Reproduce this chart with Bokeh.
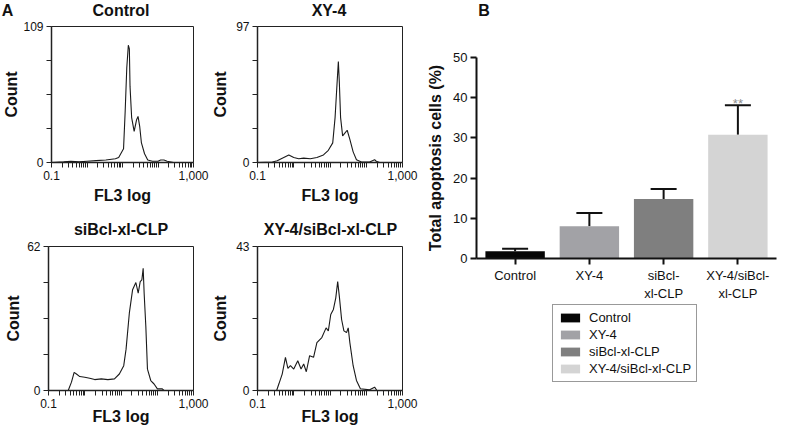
from bokeh.plotting import figure
from bokeh.layouts import row, column
from bokeh.models import (FixedTicker, Range1d, Label, Legend, LegendItem,
                          Whisker, TeeHead, ColumnDataSource)
from bokeh.embed import file_html
from bokeh.resources import INLINE

FONT = "Liberation Sans"

# ---------------- Panel A: flow cytometry histograms ----------------
hist_titles = ["Control", "XY-4", "siBcl-xl-CLP", "XY-4/siBcl-xl-CLP"]
hist_ymax = [109, 97, 62, 43]
hist_x_ticks = [0.1, 0.2, 0.3, 0.4, 0.5, 0.6, 0.7, 0.8, 0.9,
                1, 2, 3, 4, 5, 6, 7, 8, 9,
                10, 20, 30, 40, 50, 60, 70, 80, 90,
                100, 200, 300, 400, 500, 600, 700, 800, 900, 1000]
hist_x_labels = {0.1: "0.1", 1000: "1,000"}

control_fl3 = [0.1, 0.22, 0.35, 0.6, 1.0, 1.8, 3.4, 6.3, 7.8, 10.7, 11.9, 13.2, 14.6, 15.6, 16.3,
               18.1, 21.3, 24.8, 27.4, 30.5, 34.0, 41.8, 51.4, 70, 100, 119, 147, 181, 275, 1000]
control_count = [0, 0.5, 1, 0.5, 1, 1.5, 2, 3, 4, 11, 41, 76, 94, 91, 61,
                 36, 25, 34, 37, 29, 16, 7, 2, 1, 1, 2, 2, 1, 0, 0]

xy4_fl3 = [0.1, 0.257, 0.35, 0.53, 0.73, 1.0, 1.37, 1.88, 2.86, 4.35, 6.6, 9.0, 11.9, 13.8, 15.3,
           17.0, 18.1, 19.6, 22.3, 25.7, 29.8, 35.3, 43.5, 53.7, 73.6, 124, 170, 189, 233, 1000]
xy4_count = [0, 0.4, 1.3, 3.6, 5.4, 3.6, 2.7, 3.1, 2.7, 3.6, 5.4, 8.7, 14, 32, 52,
             72, 57, 32, 19, 21, 23, 16.5, 7.6, 2, 0.4, 0.4, 2, 0.9, 0, 0]

sibcl_fl3 = [0.1, 0.35, 0.43, 0.51, 0.59, 0.73, 1.0, 1.37, 1.88, 2.86, 4.35, 6.6, 9.0, 11.9, 13.8,
             17.0, 20.9, 25.7, 29.8, 33.9, 37.6, 40.9, 43.5, 48.4, 53.7, 66.2, 81.7, 101, 138, 153, 1000]
sibcl_count = [0, 0, 3.6, 7.8, 7.1, 6.0, 5.7, 5.3, 4.7, 5.0, 4.7, 5.0, 7.1, 10.7, 17.8,
               33.4, 43.4, 46.5, 41.9, 46.9, 47.6, 52.6, 41.9, 27.7, 9.2, 4.3, 2.8, 0.7, 0.7, 0, 0]

combo_fl3 = [0.1, 0.337, 0.39, 0.48, 0.59, 0.69, 0.81, 1.0, 1.29, 1.59, 1.88, 2.22, 2.74, 3.52, 4.35,
             5.95, 7.8, 9.0, 10.5, 12.4, 14.4, 16.3, 18.1, 20.9, 24.2, 28.6, 31.8, 35.3, 43.5, 53.7,
             69, 124, 170, 197, 1000]
combo_count = [0, 0, 2.0, 4.9, 9.9, 6.6, 7.4, 6.4, 8.9, 6.4, 7.9, 5.6, 10.4, 9.9, 14.3,
               15.8, 18.7, 17.8, 22.7, 24.2, 27.6, 32.5, 28.1, 21.2, 17.8, 17.3, 18.7, 14.3, 7.4, 3.0,
               0.5, 0.2, 1.0, 0, 0]

# ---------------- Panel B: bar chart ----------------
bar_categories = ["Control", "XY-4", "siBcl-xl-CLP", "XY-4/siBcl-xl-CLP"]
bar_tick_labels = ["Control", "XY-4", "siBcl-\nxl-CLP", "XY-4/siBcl-\nxl-CLP"]
bar_mean = [1.8, 8.0, 14.8, 30.8]
bar_err = [0.6, 3.3, 2.5, 7.3]
bar_colors = ["#060606", "#a2a2a6", "#7f7f7f", "#d4d4d4"]
bar_y_ticks = [0, 10, 20, 30, 40, 50]
bar_sig = ["", "", "", "**"]

TEXT = "#111111"


def text_strip(width, height, texts):
    """A blank figure whose frame is the whole area, used only to hold texts."""
    s = figure(width=width, height=height, x_range=Range1d(0, width), y_range=Range1d(0, height),
               output_backend="svg", toolbar_location=None,
               x_axis_location=None, y_axis_location=None,
               min_border_left=0, min_border_right=0, min_border_top=0, min_border_bottom=0)
    s.grid.visible = False
    s.outline_line_color = None
    s.background_fill_color = "white"
    s.border_fill_color = "white"
    for (x, y, t, size) in texts:
        s.add_layout(Label(x=x, y=y, text=t, text_align="center", text_baseline="middle",
                           text_font=FONT, text_font_style="bold", text_font_size=size,
                           text_color=TEXT))
    return s


def make_hist(fl3, count, ymax, width, height, left, right, top, bottom,
              ylabel_standoff, xlabel_standoff):
    p = figure(width=width, height=height, x_axis_type="log",
               x_range=Range1d(0.1, 1000), y_range=Range1d(0, ymax),
               output_backend="svg", toolbar_location=None,
               min_border_left=left, min_border_right=right,
               min_border_top=top, min_border_bottom=bottom)
    p.line(fl3, count, line_color="#1a1a1a", line_width=1.1)
    p.grid.visible = False
    p.outline_line_color = "#222222"
    p.outline_line_width = 1
    p.background_fill_color = "white"
    p.border_fill_color = "white"

    xa = p.xaxis[0]
    xa.ticker = FixedTicker(ticks=hist_x_ticks)
    xa.major_label_overrides = {t: hist_x_labels.get(t, "") for t in hist_x_ticks}
    xa.axis_label = "FL3 log"
    xa.axis_line_width = 1.5
    xa.major_tick_out = 5
    xa.major_tick_in = 0
    xa.minor_tick_out = 0
    xa.major_tick_line_width = 1
    xa.major_label_standoff = 3
    xa.axis_label_standoff = xlabel_standoff

    ya = p.yaxis[0]
    yt = [0, ymax / 4, ymax / 2, 3 * ymax / 4, ymax]
    ya.ticker = FixedTicker(ticks=yt)
    ya.major_label_overrides = {t: (str(t) if t in (0, ymax) else "") for t in yt}
    ya.axis_label = "Count"
    ya.axis_line_width = 1.5
    ya.major_tick_out = 5
    ya.major_tick_in = 0
    ya.minor_tick_out = 0
    ya.major_label_standoff = 3
    ya.axis_label_standoff = ylabel_standoff

    for ax in (xa, ya):
        ax.major_label_text_font = FONT
        ax.major_label_text_font_size = "12px"
        ax.major_label_text_color = TEXT
        ax.axis_label_text_font = FONT
        ax.axis_label_text_font_size = "16px"
        ax.axis_label_text_font_style = "bold"
        ax.axis_label_text_color = TEXT
        ax.axis_line_color = "#222222"
        ax.major_tick_line_color = "#222222"
    return p


# left column: title strip, row 1, title strip, row 2
LW1, LW2 = 209, 215
head1 = text_strip(LW1 + LW2, 19, [
    (7, 9.5, "A", "16px"),
    (120.5, 9.5, hist_titles[0], "16px"),
    (328.5, 9.5, hist_titles[1], "16px"),
])
h1 = make_hist(control_fl3, control_count, hist_ymax[0], LW1, 191, 48, 16, 7, 48, 0, 4)
h2 = make_hist(xy4_fl3, xy4_count, hist_ymax[1], LW2, 191, 46, 22, 7, 48, 4, 4)
head2 = text_strip(LW1 + LW2, 29, [
    (120.5, 10, hist_titles[2], "16px"),
    (330, 10, hist_titles[3], "16px"),
])
h3 = make_hist(sibcl_fl3, sibcl_count, hist_ymax[2], LW1, 196, 48, 16, 7, 45, 2, -3)
h4 = make_hist(combo_fl3, combo_count, hist_ymax[3], LW2, 196, 46, 22, 7, 45, 4, -3)

# ---------------- bar chart figure ----------------
BW = 353
BL, BR, BT, BB = 50, 1, 38, 45
headB = text_strip(BW, 19, [(9, 9.5, "B", "16px")])

xs = list(range(len(bar_categories)))
pb = figure(width=BW, height=BT + 201 + BB, x_range=Range1d(-0.52, 3.52), y_range=Range1d(0, 50),
            output_backend="svg", toolbar_location=None,
            min_border_left=BL, min_border_right=BR, min_border_top=BT, min_border_bottom=BB)
pb.grid.visible = False
pb.outline_line_color = None
pb.background_fill_color = "white"
pb.border_fill_color = "white"

for i, cat in enumerate(bar_categories):
    pb.vbar(x=[xs[i]], top=[bar_mean[i]], width=0.8, fill_color=bar_colors[i], line_color=None)

src = ColumnDataSource(dict(x=xs, lower=bar_mean,
                            upper=[m + e for m, e in zip(bar_mean, bar_err)]))
pb.add_layout(Whisker(source=src, base="x", lower="lower", upper="upper",
                      dimension="height", line_color=TEXT, line_width=2,
                      upper_head=TeeHead(size=26, line_color=TEXT, line_width=2),
                      lower_head=None))

for i, s in enumerate(bar_sig):
    if s:
        pb.add_layout(Label(x=xs[i], y=bar_mean[i] + bar_err[i], text=s,
                            text_align="center", text_baseline="alphabetic", y_offset=2,
                            text_font=FONT, text_font_size="13px", text_color="#8c8c8c"))

xa = pb.xaxis[0]
xa.ticker = FixedTicker(ticks=xs)
xa.major_label_overrides = dict(zip(xs, bar_tick_labels))
xa.major_tick_out = 6
xa.major_tick_in = 0
xa.minor_tick_out = 0
xa.major_label_standoff = 3

ya = pb.yaxis[0]
ya.ticker = FixedTicker(ticks=bar_y_ticks)
ya.axis_label = "Total apoptosis cells (%)"
ya.major_tick_out = 6
ya.major_tick_in = 0
ya.minor_tick_out = 0
ya.major_label_standoff = 3
ya.axis_label_standoff = 6
for ax in (xa, ya):
    ax.axis_line_width = 2
    ax.axis_line_color = TEXT
    ax.major_tick_line_width = 2
    ax.major_tick_line_color = TEXT
    ax.major_label_text_font = FONT
    ax.major_label_text_font_size = "13px"
    ax.major_label_text_color = TEXT
    ax.axis_label_text_font = FONT
    ax.axis_label_text_font_size = "16px"
    ax.axis_label_text_font_style = "bold"
    ax.axis_label_text_color = TEXT

# legend in its own blank figure under the bar chart; its proxy bars have zero height
LEG_H = 435 - 19 - (BT + 201 + BB)
pleg = figure(width=BW, height=LEG_H, x_range=Range1d(0, 1), y_range=Range1d(0, 1),
              output_backend="svg", toolbar_location=None,
              x_axis_location=None, y_axis_location=None,
              min_border_left=BL, min_border_right=BR, min_border_top=0, min_border_bottom=0)
pleg.grid.visible = False
pleg.outline_line_color = None
pleg.background_fill_color = "white"
pleg.border_fill_color = "white"
items = []
for i, cat in enumerate(bar_categories):
    r = pleg.vbar(x=[-10], top=[0], bottom=[0], width=0.8, fill_color=bar_colors[i], line_color=None)
    items.append(LegendItem(label=cat, renderers=[r]))
legend = Legend(items=items, location=(76, 53), orientation="vertical",
                border_line_color="#333333", border_line_width=1,
                background_fill_color="white", background_fill_alpha=1,
                padding=5, spacing=2, margin=0,
                glyph_width=24, glyph_height=11, label_height=11, label_standoff=7,
                label_text_font=FONT, label_text_font_size="13px",
                label_text_color=TEXT)
pleg.add_layout(legend)

left_col = column(head1, row(h1, h2), head2, row(h3, h4))
right_col = column(headB, pb, pleg)
layout = row(left_col, right_col)
open("out.html", "w").write(file_html(layout, INLINE))
